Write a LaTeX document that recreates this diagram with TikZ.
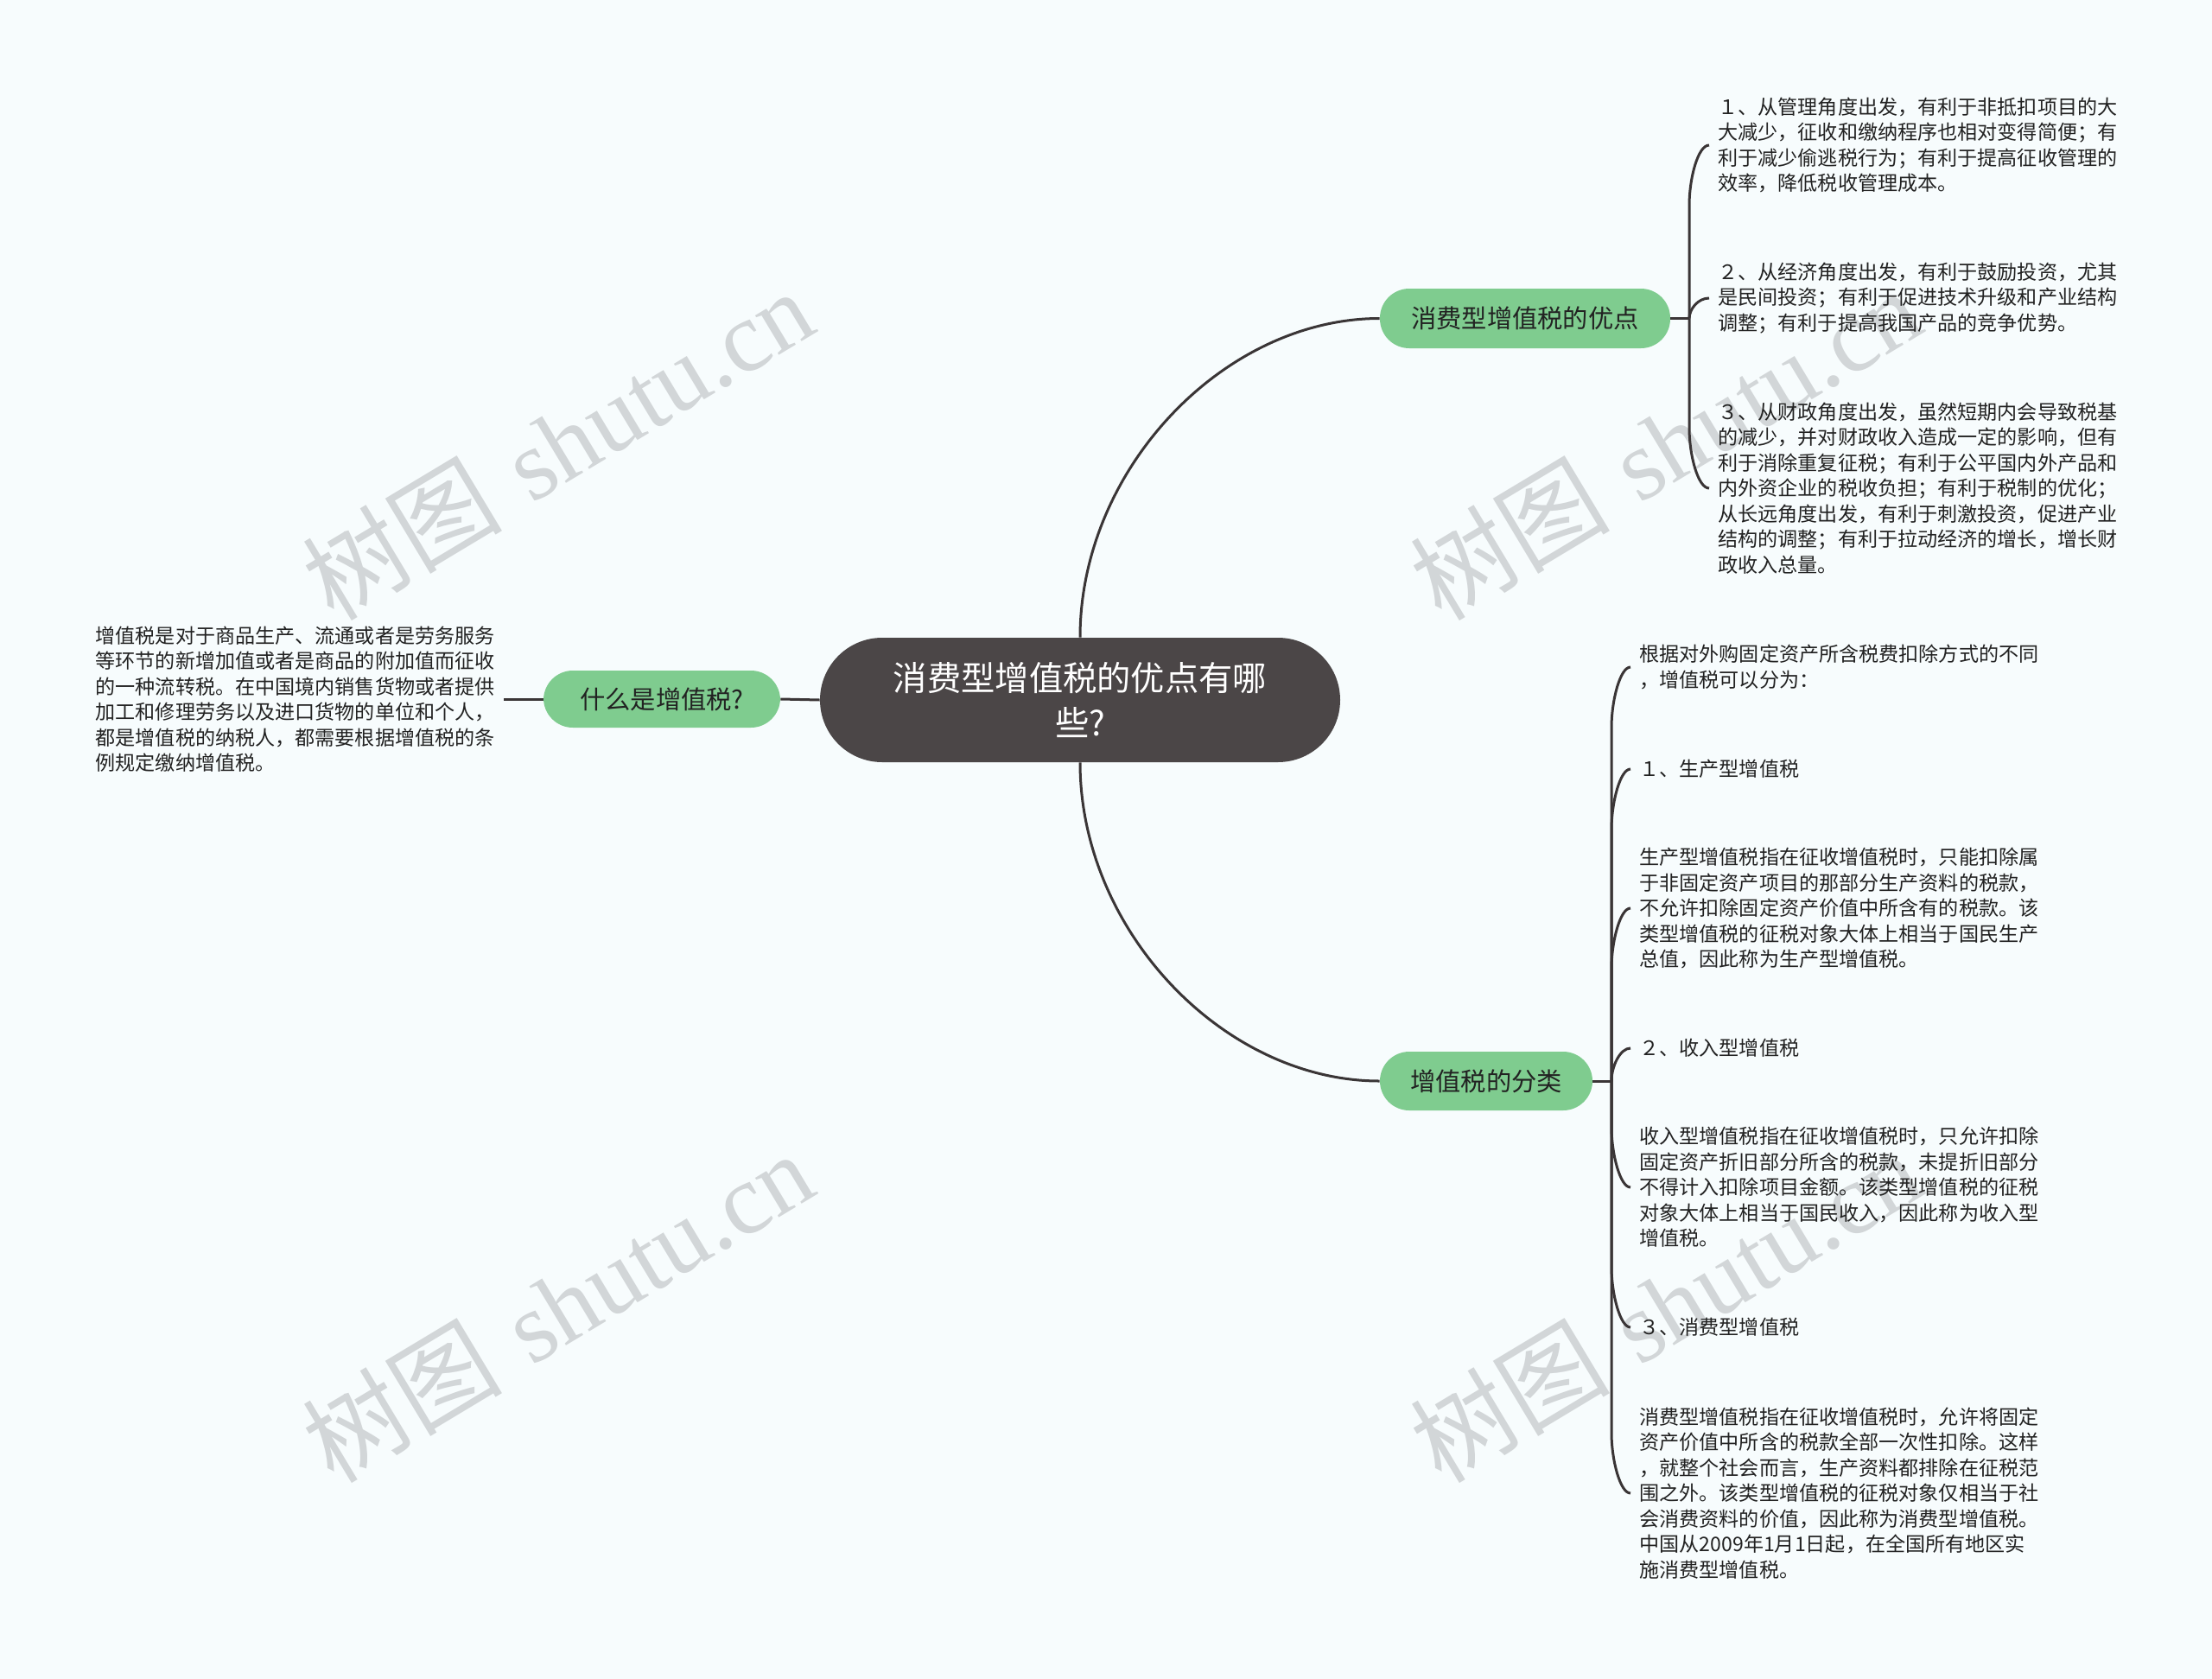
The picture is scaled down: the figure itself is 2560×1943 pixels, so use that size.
\documentclass[tikz,border=0pt]{standalone}
\usepackage{fontspec}
\newfontfamily\cjk{Noto Sans CJK SC}
\newfontfamily\wmfont{Liberation Serif}
\usetikzlibrary{calc}
\definecolor{bg}{RGB}{247,252,253}
\definecolor{linec}{RGB}{58,53,54}
\definecolor{rootc}{RGB}{75,70,71}
\definecolor{greenc}{RGB}{127,204,143}
\definecolor{txtc}{RGB}{34,34,34}
\definecolor{wmc}{RGB}{210,214,216}
\tikzset{
 conn/.style={draw=linec, line width=1.5pt},
 rootnode/.style={rectangle, rounded corners=36pt, fill=rootc, text=white, minimum width=301pt, minimum height=72pt, align=center, font=\cjk\fontsize{19.65pt}{26pt}\selectfont, inner sep=0pt},
 topic/.style={rectangle, rounded corners=17pt, fill=greenc, text=txtc, minimum height=34pt, font=\cjk\fontsize{14.65pt}{18pt}\selectfont, inner sep=0pt},
 leaf/.style={align=left, text=txtc, inner xsep=5pt, inner ysep=0pt, font=\cjk\fontsize{11.55pt}{14.75pt}\selectfont},
 wm/.style={text=wmc, rotate=31, inner sep=0pt, font=\fontsize{58pt}{66pt}\selectfont}
}
\newcommand\brconn[4]{%
 \draw[conn] (#1) -- ($(#2.west)+(#3,#4)$) .. controls ($(#2.west)+(#3,#4*0.55)$) and ($(#2.west)+(#3+10,0)$) .. (#2.west);}
\begin{document}
\begin{tikzpicture}[x=0.5pt,y=-0.5pt]
\fill[bg] (0,0) rectangle (2560,1943);
\useasboundingbox (0,0) rectangle (2560,1943);

% watermarks
\node[wm] (wm1) at (645,514) {{\cjk 树图} {\wmfont shutu.cn}};
\node[wm] (wm2) at (1927,514) {{\cjk 树图} {\wmfont shutu.cn}};
\node[wm] (wm3) at (645,1512) {{\cjk 树图} {\wmfont shutu.cn}};
\node[wm] (wm4) at (1927,1512) {{\cjk 树图} {\wmfont shutu.cn}};

% main nodes
\node[rootnode] (root) at (1250,810) {消费型增值税的优点有哪\\些?};
\node[topic, minimum width=168pt, minimum height=34.5pt] (yd) at (1765,368.5) {消费型增值税的优点};
\node[topic, minimum width=123pt] (fl) at (1720,1251) {增值税的分类};
\node[topic, minimum width=137pt, minimum height=33pt] (what) at (766,809) {什么是增值税?};

% left leaf
\node[leaf, anchor=east] (def) at (583,809) {增值税是对于商品生产、流通或者是劳务服务\\等环节的新增加值或者是商品的附加值而征收\\的一种流转税。在中国境内销售货物或者提供\\加工和修理劳务以及进口货物的单位和个人，\\都是增值税的纳税人，都需要根据增值税的条\\例规定缴纳增值税。};

% top-right leaves
\node[leaf, anchor=west] (t1) at (1978,168) {１、从管理角度出发，有利于非抵扣项目的大\\大减少，征收和缴纳程序也相对变得简便；有\\利于减少偷逃税行为；有利于提高征收管理的\\效率，降低税收管理成本。};
\node[leaf, anchor=west] (t2) at (1978,345) {２、从经济角度出发，有利于鼓励投资，尤其\\是民间投资；有利于促进技术升级和产业结构\\调整；有利于提高我国产品的竞争优势。};
\node[leaf, anchor=west] (t3) at (1978,565) {３、从财政角度出发，虽然短期内会导致税基\\的减少，并对财政收入造成一定的影响，但有\\利于消除重复征税；有利于公平国内外产品和\\内外资企业的税收负担；有利于税制的优化；\\从长远角度出发，有利于刺激投资，促进产业\\结构的调整；有利于拉动经济的增长，增长财\\政收入总量。};

% bottom-right leaves
\node[leaf, anchor=west] (ca) at (1887,772) {根据对外购固定资产所含税费扣除方式的不同\\，增值税可以分为：};
\node[leaf, anchor=west] (cb) at (1887,890) {１、生产型增值税};
\node[leaf, anchor=west] (cc) at (1887,1051) {生产型增值税指在征收增值税时，只能扣除属\\于非固定资产项目的那部分生产资料的税款，\\不允许扣除固定资产价值中所含有的税款。该\\类型增值税的征税对象大体上相当于国民生产\\总值，因此称为生产型增值税。};
\node[leaf, anchor=west] (cd) at (1887,1213) {２、收入型增值税};
\node[leaf, anchor=west] (ce) at (1887,1374) {收入型增值税指在征收增值税时，只允许扣除\\固定资产折旧部分所含的税款，未提折旧部分\\不得计入扣除项目金额。该类型增值税的征税\\对象大体上相当于国民收入，因此称为收入型\\增值税。};
\node[leaf, anchor=west] (cf) at (1887,1536) {３、消费型增值税};
\node[leaf, anchor=west] (cg) at (1887,1728) {消费型增值税指在征收增值税时，允许将固定\\资产价值中所含的税款全部一次性扣除。这样\\，就整个社会而言，生产资料都排除在征税范\\围之外。该类型增值税的征税对象仅相当于社\\会消费资料的价值，因此称为消费型增值税。\\中国从2009年1月1日起，在全国所有地区实\\施消费型增值税。};

% junctions
\coordinate (j1) at (1955,368.5);
\coordinate (j2) at (1865,1251);

% connectors
\draw[conn] (root.north) .. controls ($(root.north)+(0,-195)$) and ($(yd.west)+(-180,0)$) .. (yd.west);
\draw[conn] (root.south) .. controls ($(root.south)+(0,195)$) and ($(fl.west)+(-180,0)$) .. (fl.west);
\draw[conn] (root.west) -- (what.east);
\draw[conn] (what.west) -- (def.east);
\draw[conn] (yd.east) -- (j1);
\draw[conn] (fl.east) -- (j2);

\brconn{j1}{t1}{-23}{70}
\brconn{j1}{t2}{-23}{23.5}
\brconn{j1}{t3}{-23}{-70}

\brconn{j2}{ca}{-22}{70}
\brconn{j2}{cb}{-22}{70}
\brconn{j2}{cc}{-22}{70}
\brconn{j2}{cd}{-22}{38}
\brconn{j2}{ce}{-22}{-70}
\brconn{j2}{cf}{-22}{-70}
\brconn{j2}{cg}{-22}{-70}
\end{tikzpicture}
\end{document}
